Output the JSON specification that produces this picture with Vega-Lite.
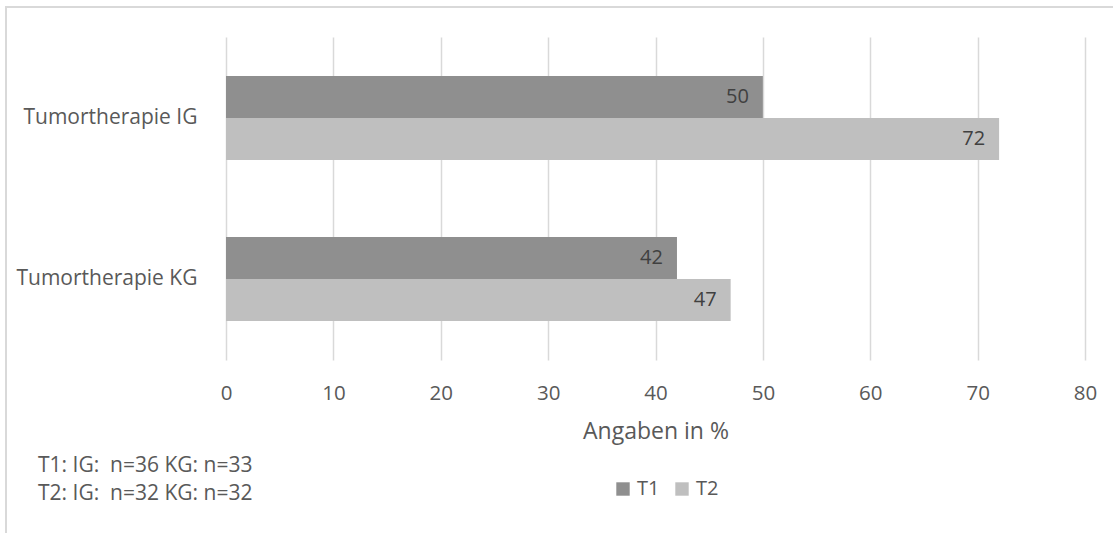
{
  "$schema": "https://vega.github.io/schema/vega-lite/v6.json",
  "width": 1110,
  "height": 530,
  "autosize": {"type": "none"},
  "padding": {"left": 6, "top": 7, "right": 0, "bottom": 0},
  "background": "white",
  "config": {
    "view": {"stroke": "#d9d9d9", "strokeWidth": 2},
    "font": "Open Sans",
    "title": {"font": "Open Sans"}
  },
  "title": {
    "text": ["T1: IG:\u00a0 n=36 KG: n=33", "T2: IG:\u00a0 n=32 KG: n=32"],
    "orient": "bottom",
    "anchor": "start",
    "frame": "group",
    "offset": -82,
    "dx": 32,
    "fontSize": 21,
    "fontWeight": "normal",
    "color": "#595959",
    "lineHeight": 28
  },
  "data": {
    "values": [
      {"group": "Tumortherapie IG", "series": "T1", "value": 50},
      {"group": "Tumortherapie IG", "series": "T2", "value": 72},
      {"group": "Tumortherapie KG", "series": "T1", "value": 42},
      {"group": "Tumortherapie KG", "series": "T2", "value": 47}
    ]
  },
  "encoding": {
    "y": {
      "field": "group",
      "type": "nominal",
      "sort": null,
      "scale": {"paddingInner": 0.4783, "paddingOuter": 0.885, "align": 0.242},
      "axis": {
        "orient": "left",
        "offset": -200,
        "domain": false,
        "ticks": false,
        "grid": false,
        "labelPadding": 9,
        "labelLimit": 300,
        "labelFontSize": 21,
        "labelColor": "#595959",
        "labelFont": "Open Sans",
        "title": null
      }
    },
    "yOffset": {"field": "series", "type": "nominal", "scale": {"paddingInner": 0, "paddingOuter": 0}},
    "x": {
      "field": "value",
      "type": "quantitative",
      "scale": {"domain": [-20.489, 82.887], "nice": false, "zero": false},
      "axis": {
        "orient": "bottom",
        "offset": -177,
        "values": [0, 10, 20, 30, 40, 50, 60, 70, 80],
        "domain": false,
        "grid": false,
        "ticks": true,
        "tickSize": -323,
        "tickColor": "#d9d9d9",
        "tickWidth": 1.5,
        "labelPadding": 346,
        "labelFontSize": 20.5,
        "labelColor": "#595959",
        "labelFont": "Open Sans",
        "title": "Angaben in %",
        "titleFont": "Open Sans",
        "titleFontSize": 23,
        "titleFontWeight": "normal",
        "titleColor": "#595959",
        "titleX": 649.5,
        "titleY": 78,
        "titleAlign": "center",
        "titleBaseline": "alphabetic"
      }
    }
  },
  "layer": [
    {
      "mark": {"type": "bar"},
      "encoding": {
        "x2": {"datum": 0},
        "color": {
          "field": "series",
          "type": "nominal",
          "scale": {"domain": ["T1", "T2"], "range": ["#8f8f8f", "#bfbfbf"]},
          "legend": {
            "orient": "none",
            "legendX": 607,
            "legendY": 472,
            "direction": "horizontal",
            "title": null,
            "symbolType": "square",
            "symbolSize": 180,
            "symbolStrokeWidth": 0,
            "labelFontSize": 20,
            "labelColor": "#595959",
            "labelFont": "Open Sans",
            "labelOffset": 4,
            "columnPadding": 12
          }
        }
      }
    },
    {
      "mark": {"type": "text", "align": "right", "baseline": "middle", "dx": -14, "fontSize": 20, "color": "#404040", "font": "Open Sans"},
      "encoding": {"text": {"field": "value", "type": "quantitative"}}
    }
  ]
}
